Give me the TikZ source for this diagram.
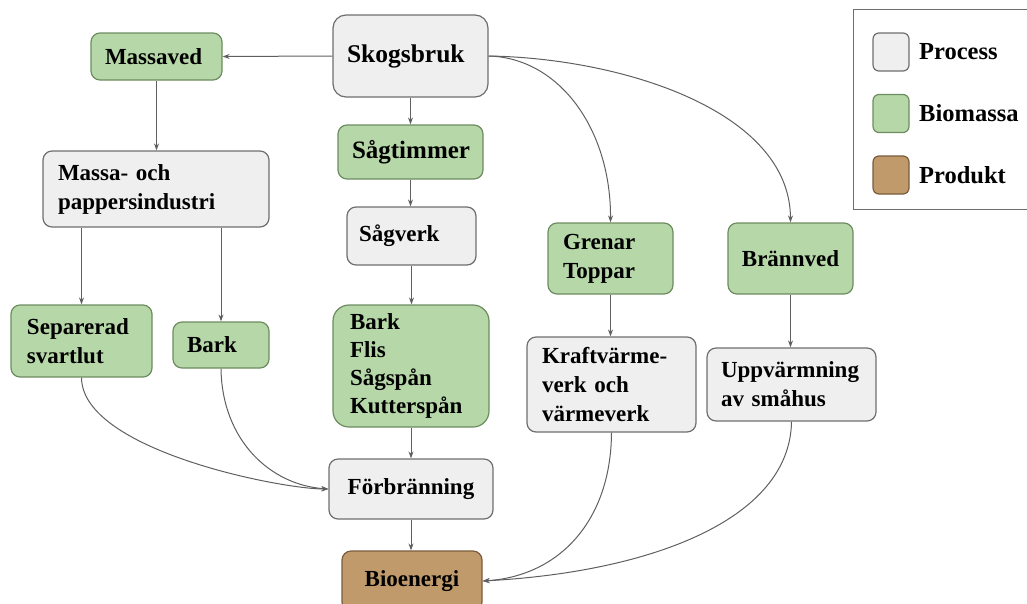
\documentclass[tikz,border=0pt]{standalone}
\usepackage{fontspec}
\setmainfont{Liberation Serif}
\usetikzlibrary{arrows.meta}
\definecolor{procfill}{HTML}{EFEFEF}
\definecolor{procline}{HTML}{6E6E6E}
\definecolor{biofill}{HTML}{B6D7A8}
\definecolor{bioline}{HTML}{6D8C60}
\definecolor{prodfill}{HTML}{C19A6B}
\definecolor{prodline}{HTML}{7A5C3C}
\definecolor{arrcol}{HTML}{5F5F5F}
\tikzset{
  box/.style={rounded corners=9pt, draw, line width=1.2pt, inner ysep=0pt,
    font=\fontsize{23}{29}\selectfont\bfseries},
  proc/.style={box, fill=procfill, draw=procline},
  bio/.style={box, fill=biofill, draw=bioline},
  prod/.style={box, fill=prodfill, draw=prodline},
  lft/.style={align=left},
  arr/.style={draw=arrcol, line width=1pt, -{Stealth[length=7pt,width=5pt]}},
  legsw/.style={rounded corners=6pt, line width=1.2pt, minimum width=36pt, minimum height=38pt, inner sep=0pt},
  legtxt/.style={anchor=west, inner sep=0pt, font=\fontsize{24.5}{29}\selectfont\bfseries}
}
\begin{document}
\begin{tikzpicture}[x=1pt,y=-1pt]
\useasboundingbox (0,0) rectangle (1027,603);
% nodes
\node[proc, lft, text width=127pt, inner xsep=14pt, minimum height=82pt, rounded corners=13pt,
  font=\fontsize{25.5}{30}\selectfont\bfseries] (sk) at (410.5,56) {Skogsbruk};
\node[bio, lft, text width=103pt, inner xsep=14pt, minimum height=47pt] (mv) at (156.5,56.5) {Massaved};
\node[proc, lft, text width=196pt, inner xsep=15pt, minimum height=76pt] (mp) at (156,189) {Massa- och\\pappersindustri};
\node[bio, lft, text width=117pt, inner xsep=14pt, minimum height=54pt,
  font=\fontsize{25}{29}\selectfont\bfseries] (st) at (410.5,152) {Sågtimmer};
\node[proc, lft, text width=105pt, inner xsep=12pt, minimum height=58pt] (sv) at (411.5,236) {Sågverk};
\node[bio, lft, text width=109pt, inner xsep=16pt, minimum height=72pt] (sep) at (81.5,341) {Separerad\\svartlut};
\node[bio, lft, text width=68pt, inner xsep=14pt, minimum height=46pt] (bk) at (221,345) {Bark};
\node[bio, lft, text width=122pt, inner xsep=17pt, minimum height=122pt, rounded corners=16pt,
  font=\fontsize{23}{28}\selectfont\bfseries] (bf) at (411,366) {Bark\\Flis\\Sågspån\\Kutterspån};
\node[proc, align=center, text width=140pt, inner xsep=12pt, minimum height=60pt] (fb) at (411,489) {Förbränning};
\node[prod, align=center, text width=116pt, inner xsep=12pt, minimum height=60pt] (bio) at (412,581) {Bioenergi};
\node[bio, lft, text width=95pt, inner xsep=15pt, minimum height=71pt] (gt) at (610.5,258.5) {Grenar\\Toppar};
\node[bio, align=center, text width=101pt, inner xsep=12pt, minimum height=71pt] (bv) at (790.5,258.5) {Brännved};
\node[proc, lft, text width=139pt, inner xsep=15pt, minimum height=95pt] (kv) at (611.5,384.5) {Kraftvärme-\\verk och\\värmeverk};
\node[proc, lft, text width=141pt, inner xsep=14pt, minimum height=73pt] (uv) at (791.5,384.5) {Uppvärmning\\av småhus};
% straight connectors
\draw[arr] (sk.west) -- (mv.east);
\draw[arr] (sk.south) -- (sk.south |- st.north);
\draw[arr] (st.south) -- (st.south |- sv.north);
\draw[arr] (sv.south) -- (sv.south |- bf.north);
\draw[arr] (bf.south) -- (bf.south |- fb.north);
\draw[arr] (fb.south) -- (fb.south |- bio.north);
\draw[arr] (mv.south) -- (mv.south |- mp.north);
\draw[arr] (sep.north |- mp.south) -- (sep.north);
\draw[arr] (bk.north |- mp.south) -- (bk.north);
\draw[arr] (gt.south) -- (gt.south |- kv.north);
\draw[arr] (bv.south) -- (bv.south |- uv.north);
% curved connectors
\draw[arr] (sk.east) .. controls (560,58) and (611,130) .. (gt.north);
\draw[arr] (sk.east) .. controls (620,58) and (790,110) .. (bv.north);
\draw[arr] (sep.south) .. controls (82,450) and (280,489) .. (fb.west);
\draw[arr] (bk.south) .. controls (222,440) and (270,485) .. (fb.west);
\draw[arr] (kv.south) .. controls (611,520) and (560,576) .. (bio.east);
\draw[arr] (uv.south) .. controls (790,520) and (650,572) .. (bio.east);
% legend
\node[draw=procline, line width=1.2pt, minimum width=185pt, minimum height=200pt, inner sep=0pt, anchor=north west] (leg) at (853,9) {};
\node[legsw, fill=procfill, draw=procline] (lp) at (891,52) {};
\node[legsw, fill=biofill, draw=bioline] (lb) at (891,113.5) {};
\node[legsw, fill=prodfill, draw=prodline] (lr) at (891,175) {};
\node[legtxt] (tp) at (919,52) {Process};
\node[legtxt] (tb) at (919,113.5) {Biomassa};
\node[legtxt] (tr) at (919,175) {Produkt};
\end{tikzpicture}
\end{document}
